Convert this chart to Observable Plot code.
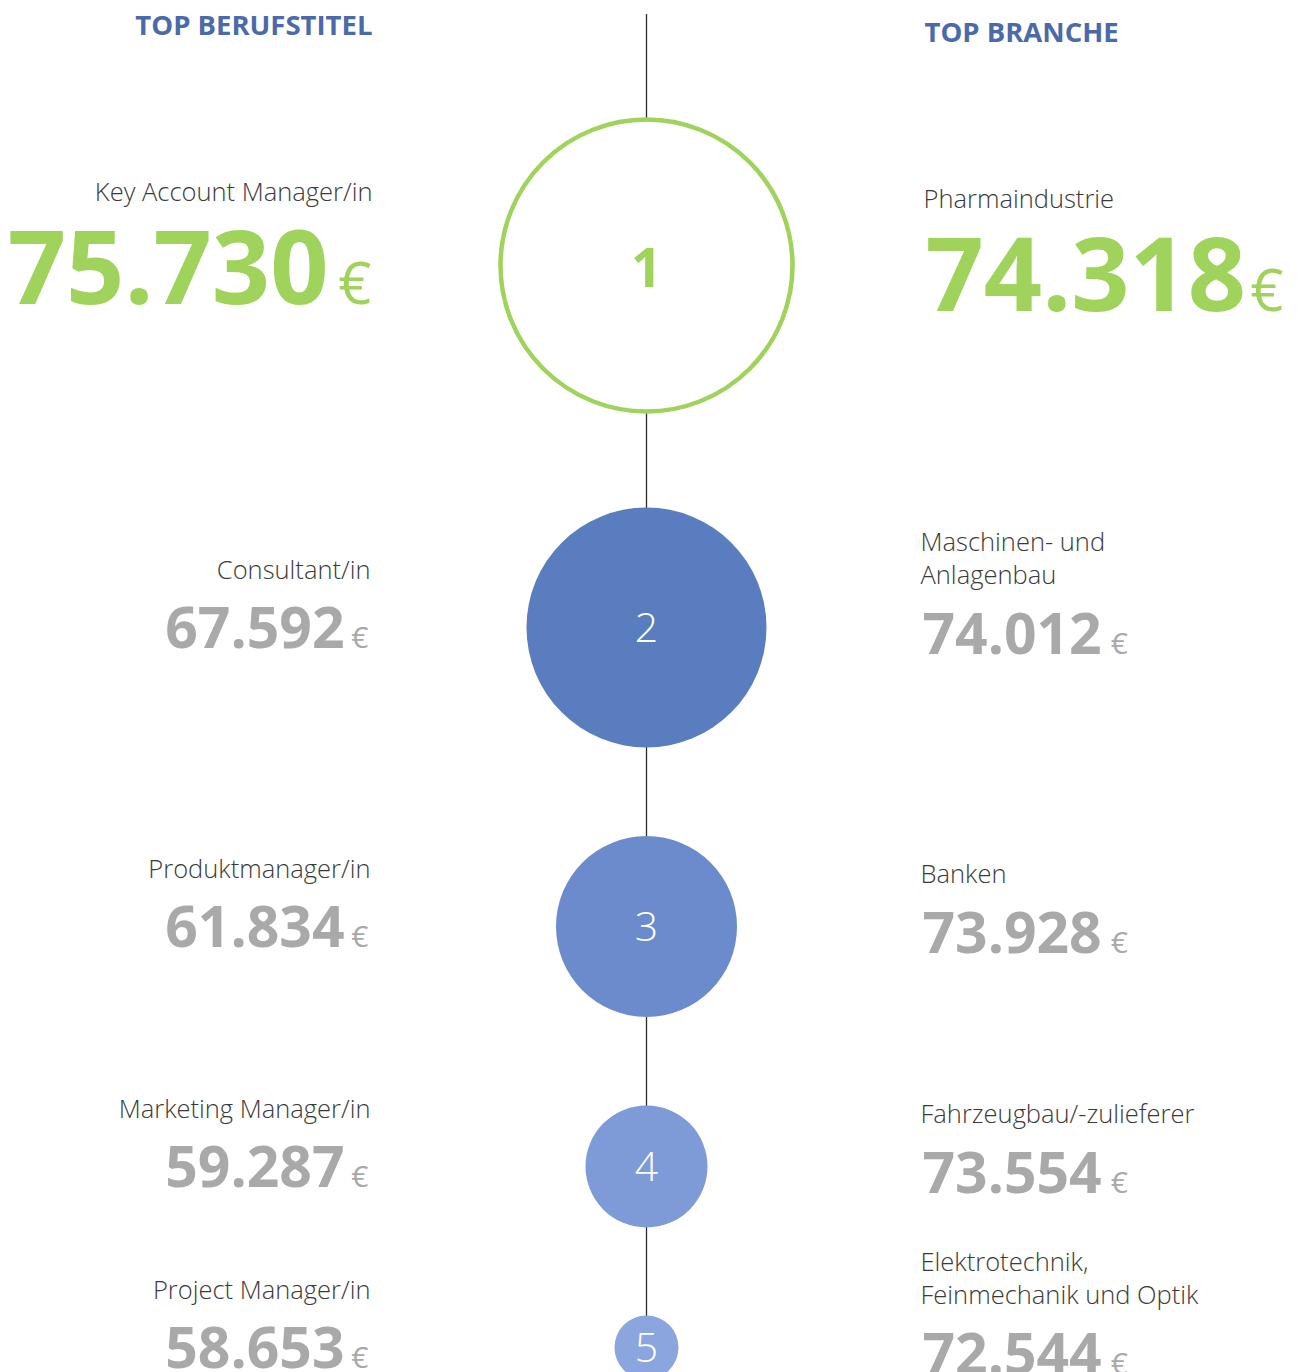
<!DOCTYPE html>
<html>
<head>
<meta charset="utf-8">
<script src="https://cdn.jsdelivr.net/npm/d3@7"></script>
<script src="https://cdn.jsdelivr.net/npm/@observablehq/plot@0.6"></script>
<style>
  html, body { margin: 0; padding: 0; background: #fff; }
  #chart svg { display: block; }
</style>
</head>
<body>
<div id="chart"></div>
<script>
// ---- data ----
const ranks = [1, 2, 3, 4, 5];
const berufstitel = ["Key Account Manager/in", "Consultant/in", "Produktmanager/in", "Marketing Manager/in", "Project Manager/in"];
const berufGehalt = [75730, 67592, 61834, 59287, 58653];
const branchen = ["Pharmaindustrie", "Maschinen- und\nAnlagenbau", "Banken", "Fahrzeugbau/-zulieferer", "Elektrotechnik,\nFeinmechanik und Optik"];
const branchenGehalt = [74318, 74012, 73928, 73554, 72544];
const columns = ["Berufstitel", "Rang", "Branche"];
const headers = ["TOP BERUFSTITEL", "TOP BRANCHE"];
const currency = "€";

// ---- styles ----
const FONT = "'Open Sans', 'Noto Sans', sans-serif";
const GREEN = "#a0d35c";
const GREY = "#a9a9a9";
const LABEL = "#3a3a3a";
const HEAD = "#4b6aa9";
const BLUES = ["#5a7dc0", "#6b8bcc", "#7f9bd7", "#8ba5de"];

const fmt = d3.formatLocale({decimal: ",", thousands: ".", grouping: [3], currency: ["", "€"]}).format(",d");

const rows = ranks.map((rank, i) => ({
  rank,
  beruf: berufstitel[i],
  berufGehalt: berufGehalt[i],
  branche: branchen[i],
  brancheGehalt: branchenGehalt[i]
}));
const top1 = rows.filter(d => d.rank === 1);
const rest = rows.filter(d => d.rank > 1);

// measure number widths for placing the € sign after right-column numbers
const ctx = document.createElement("canvas").getContext("2d");
function textWidth(str, size, weight) {
  ctx.font = `${weight} ${size}px 'Open Sans'`;
  return ctx.measureText(str).width;
}
const BIG = 102, MID = 57;
const BIG_LS = -2;
const wBig = textWidth(fmt(branchenGehalt[0]), BIG, 700) + BIG_LS * 6;
const wMid = textWidth(fmt(branchenGehalt[1]), MID, 700);

const L = () => "Berufstitel", C = () => "Rang", R = () => "Branche";

const chart = Plot.plot({
  width: 1302,
  height: 1372,
  margin: 0,
  style: {background: "#fff", fontFamily: FONT, overflow: "visible"},
  x: {type: "point", domain: columns, range: [370, 922], padding: 0, axis: null},
  y: {type: "linear", domain: ranks, range: [265, 627, 926, 1166, 1347], axis: null},
  r: {type: "linear", domain: ranks, range: [146, 120, 90.5, 61, 32]},
  color: {type: "ordinal", domain: [2, 3, 4, 5], range: BLUES},
  marks: [
    // connecting vertical line
    Plot.ruleX(["Rang"], {stroke: "#2b2b2b", strokeWidth: 1.3, insetTop: 14}),
    // circles
    Plot.dot(top1, {x: C, y: "rank", r: "rank", fill: "white", stroke: GREEN, strokeWidth: 4.5}),
    Plot.dot(rest, {x: C, y: "rank", r: "rank", fill: "rank"}),
    // rank numbers
    Plot.text(top1, {x: C, y: "rank", text: d => String(d.rank), fill: GREEN, fontSize: 54, fontWeight: 700, dy: 4}),
    Plot.text(rest, {x: C, y: "rank", text: d => String(d.rank), fill: "white", fontSize: 41, fontWeight: 300, dy: 1}),
    // headers
    Plot.text([headers[0]], {x: L, frameAnchor: "top", text: d => d, textAnchor: "end", lineAnchor: "bottom", dy: 34, dx: 2, fill: HEAD, fontSize: 27.5, fontWeight: 700}),
    Plot.text([headers[1]], {x: R, frameAnchor: "top", text: d => d, textAnchor: "start", lineAnchor: "bottom", dy: 41, dx: 2, fill: HEAD, fontSize: 27.5, fontWeight: 700}),

    // ---- left column (Berufstitel) ----
    Plot.text(top1, {x: L, y: "rank", text: "beruf", textAnchor: "end", lineAnchor: "bottom", dy: -65, dx: 2, fill: LABEL, fontSize: 25.5, fontWeight: 300}),
    Plot.text(top1, {x: L, y: "rank", text: d => fmt(d.berufGehalt), textAnchor: "end", lineAnchor: "bottom", dy: 38, dx: -42, fill: GREEN, fontSize: BIG, fontWeight: 700, letterSpacing: BIG_LS}),
    Plot.text(top1, {x: L, y: "rank", text: () => currency, textAnchor: "end", lineAnchor: "bottom", dy: 38, dx: 1, fill: GREEN, fontSize: 58, fontWeight: 400}),
    Plot.text(rest, {x: L, y: "rank", text: "beruf", textAnchor: "end", lineAnchor: "bottom", dy: -49, fill: LABEL, fontSize: 25.5, fontWeight: 300}),
    Plot.text(rest, {x: L, y: "rank", text: d => fmt(d.berufGehalt), textAnchor: "end", lineAnchor: "bottom", dy: 20, dx: -26, fill: GREY, fontSize: MID, fontWeight: 700}),
    Plot.text(rest, {x: L, y: "rank", text: () => currency, textAnchor: "end", lineAnchor: "bottom", dy: 20, dx: -2, fill: GREY, fontSize: 30, fontWeight: 400}),

    // ---- right column (Branche) ----
    Plot.text(top1, {x: R, y: "rank", text: "branche", textAnchor: "start", lineAnchor: "bottom", dy: -58, dx: 1, fill: LABEL, fontSize: 25.5, fontWeight: 300, lineHeight: 1.28}),
    Plot.text(top1, {x: R, y: "rank", text: d => fmt(d.brancheGehalt), textAnchor: "start", lineAnchor: "bottom", dy: 45, dx: 3, fill: GREEN, fontSize: BIG, fontWeight: 700, letterSpacing: BIG_LS}),
    Plot.text(top1, {x: R, y: "rank", text: () => currency, textAnchor: "start", lineAnchor: "bottom", dy: 45, dx: 3 + wBig + 16, fill: GREEN, fontSize: 58, fontWeight: 400}),
    Plot.text(rest, {x: R, y: "rank", text: "branche", textAnchor: "start", lineAnchor: "bottom", dy: -44, dx: -2, fill: LABEL, fontSize: 25.5, fontWeight: 300, lineHeight: 1.28}),
    Plot.text(rest, {x: R, y: "rank", text: d => fmt(d.brancheGehalt), textAnchor: "start", lineAnchor: "bottom", dy: 26, dx: 0, fill: GREY, fontSize: MID, fontWeight: 700}),
    Plot.text(rest, {x: R, y: "rank", text: () => currency, textAnchor: "start", lineAnchor: "bottom", dy: 26, dx: wMid + 9, fill: GREY, fontSize: 30, fontWeight: 400})
  ]
});
document.getElementById("chart").append(chart);
</script>
</body>
</html>
